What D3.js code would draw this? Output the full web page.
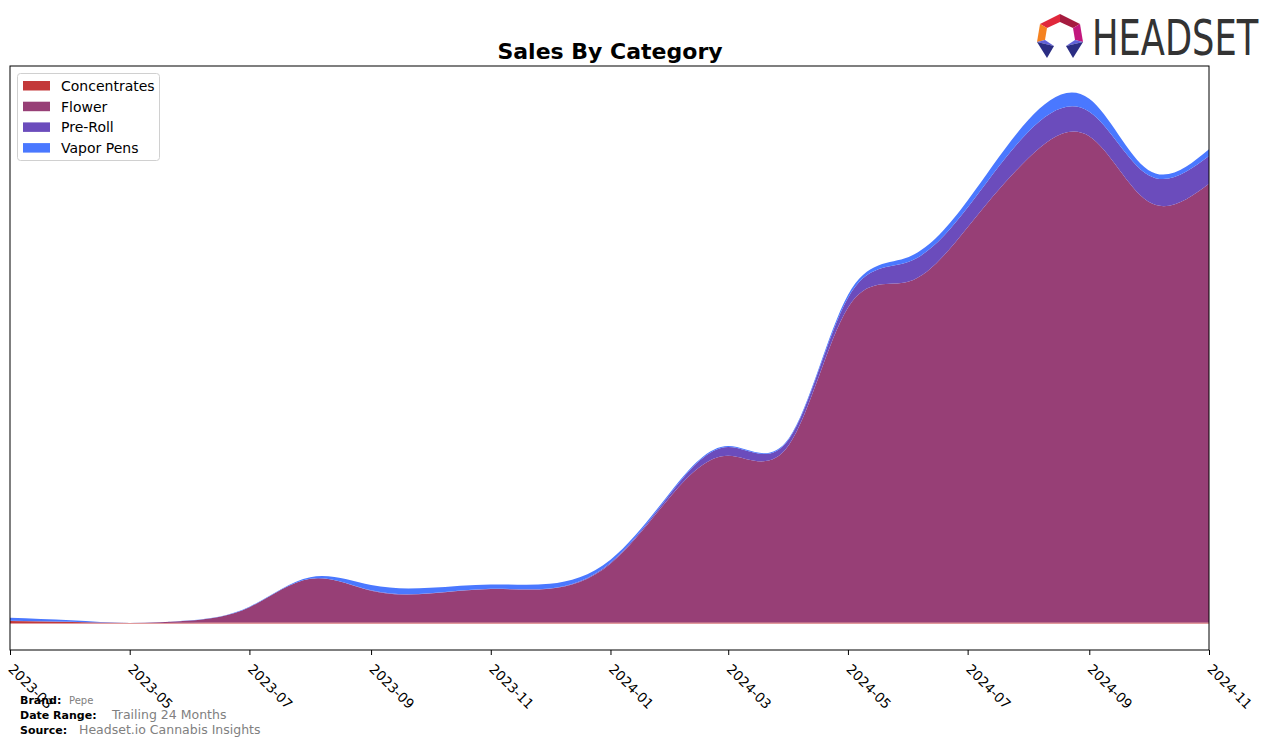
<!DOCTYPE html>
<html>
<head>
<meta charset="utf-8">
<script src="https://cdn.jsdelivr.net/npm/d3@7"></script>
<style>
  body { margin: 0; background: #fff; }
  text { font-family: "DejaVu Sans", sans-serif; }
</style>
</head>
<body>
<div id="chart"></div>
<script>
// monthly sales (thousands of $)
let months = ['2023-03', '2023-04', '2023-05', '2023-06', '2023-07', '2023-08', '2023-09', '2023-10', '2023-11', '2023-12',
  '2024-01', '2024-02', '2024-03', '2024-04', '2024-05', '2024-06', '2024-07', '2024-08', '2024-09', '2024-10', '2024-11'];
let concentrates = [2.5, 1.5, 0.5, 0.8, 1, 1, 1, 1, 1, 1, 1, 1, 1, 1, 1, 1, 1, 1, 1, 1, 1];
let flower = [0.3, 0.2, 0, 2.2, 15.5, 44.2, 32.2, 29.2, 33.8, 34.2, 59.5, 128.5, 168.8, 179.8, 318.5, 345, 400, 470, 492, 426, 444];
let preRoll = [0, 0, 0, 0, 0, 0, 0.3, 0.3, 0.3, 0.3, 1, 3, 8.7, 6, 10, 20, 20, 26.7, 25, 27, 28];
let vaporPens = [3, 1.5, 0, 0.2, 0.5, 1.6, 5.3, 5.6, 4.4, 4.6, 3, 1.5, 1, 1, 3, 5, 7, 12, 13, 5, 7];
let tickMonths = ['2023-03', '2023-05', '2023-07', '2023-09', '2023-11', '2024-01', '2024-03', '2024-05', '2024-07', '2024-09', '2024-11'];

let categories = ['Concentrates', 'Flower', 'Pre-Roll', 'Vapor Pens'];
let colors = ['#c3393a', '#973f76', '#6b4cbc', '#4a78ff'];

let w = 1276, h = 746;
let pLeft = 10, pRight = 1209, pTop = 66, pBottom = 650;

let parse = d3.timeParse('%Y-%m');
let rows = months.map((m, i) => ({
  date: parse(m),
  'Concentrates': concentrates[i],
  'Flower': flower[i],
  'Pre-Roll': preRoll[i],
  'Vapor Pens': vaporPens[i]
}));

let svg = d3.select('#chart').
append('svg').
attr('width', w).
attr('height', h);

let xScale = d3.scaleTime().
domain([parse(months[0]), parse(months[months.length - 1])]).
range([pLeft, pRight]);

let stacked = d3.stack().keys(categories)(rows);
let maxTotal = d3.max(rows, d => categories.reduce((s, k) => s + d[k], 0));

let yScale = d3.scaleLinear().
domain([-0.05 * maxTotal, 1.05 * maxTotal]).
range([pBottom, pTop]);

svg.append('clipPath').attr('id', 'plotclip').
append('rect').
attr('x', pLeft).attr('y', pTop).
attr('width', pRight - pLeft).attr('height', pBottom - pTop);

let area = d3.area().
curve(d3.curveNatural).
x(d => xScale(d.data.date)).
y0(d => yScale(d[0])).
y1(d => yScale(d[1]));

let paths = svg.append('g').
attr('clip-path', 'url(#plotclip)').
selectAll('path').
data(stacked).
enter().
append('path').
attr('d', area).
attr('fill', (d, i) => colors[i]);

// y limits follow the smoothed curve's peak, not just the monthly points
let topBox = paths.nodes()[paths.size() - 1].getBBox();
let curveMax = yScale.invert(topBox.y);
yScale.domain([-0.05 * curveMax, 1.05 * curveMax]);
paths.attr('d', area);

//frame
svg.append('rect').
attr('x', pLeft).attr('y', pTop).
attr('width', pRight - pLeft).attr('height', pBottom - pTop).
attr('fill', 'none').
attr('stroke', 'black').
attr('stroke-width', 1);

//x axis
let xAxis = d3.axisBottom(xScale).
tickValues(tickMonths.map(parse)).
tickFormat(d3.timeFormat('%Y-%m')).
tickSize(5).
tickSizeOuter(0);

let gx = svg.append('g').
attr('transform', 'translate(0,' + pBottom + ')').
call(xAxis);
gx.select('.domain').remove();
gx.selectAll('line').attr('stroke', 'black');
gx.selectAll('text').
attr('font-size', 13.5).
attr('font-family', 'DejaVu Sans').
attr('fill', 'black').
attr('text-anchor', 'start').
attr('transform', 'translate(-3,20) rotate(45)').
attr('dy', 0).
attr('x', 0).
attr('y', 0);

//title
svg.append('text').
text('Sales By Category').
attr('x', 610).
attr('y', 59).
attr('text-anchor', 'middle').
attr('font-size', 22).
attr('font-weight', 'bold');

//legend
let legend = svg.append('g');
legend.append('rect').
attr('x', 17.5).attr('y', 73.5).
attr('width', 142).attr('height', 87).
attr('rx', 3).
attr('fill', 'white').
attr('stroke', '#d0d0d0');
categories.forEach((c, i) => {
  legend.append('rect').
  attr('x', 23).attr('y', 81 + i * 20.7).
  attr('width', 27).attr('height', 9.5).
  attr('fill', colors[i]);
  legend.append('text').
  text(c).
  attr('x', 61).attr('y', 86 + i * 20.7).
  attr('dy', '0.35em').
  attr('font-size', 14);
});

//footer
let foot = [['Brand:', 'Pepe', 69, 10], ['Date Range:', 'Trailing 24 Months', 112, 12.5], ['Source:', 'Headset.io Cannabis Insights', 79, 12.5]];
foot.forEach((f, i) => {
  svg.append('text').text(f[0]).
  attr('x', 20).attr('y', 704 + i * 15).
  attr('font-size', 11).attr('font-weight', 'bold');
  svg.append('text').text(f[1]).
  attr('x', f[2]).attr('y', 704 + i * 15).
  attr('font-size', f[3]).attr('fill', '#808080');
});

//logo
let logo = svg.append('g');
let polys = [
  [[[1040, 24], [1060, 14], [1060, 22], [1047, 28]], '#e0283c'],
  [[[1060, 14], [1080, 24], [1073, 28], [1060, 22]], '#a51b3f'],
  [[[1080, 24], [1083, 42], [1075, 40], [1073, 28]], '#c2177d'],
  [[[1040, 24], [1047, 28], [1045, 40], [1037, 42]], '#f58220'],
  [[[1037, 42], [1045, 40], [1054, 46]], '#6060d8'],
  [[[1037, 42], [1054, 46], [1047, 58]], '#2b2d83'],
  [[[1083, 42], [1075, 40], [1066, 46]], '#6060d8'],
  [[[1083, 42], [1066, 46], [1073, 58]], '#2b2d83']
];
polys.forEach(p => {
  logo.append('polygon').
  attr('points', p[0].map(q => q.join(',')).join(' ')).
  attr('fill', p[1]);
});
logo.append('g').
attr('transform', 'translate(1092,55) scale(0.72,1)').
append('text').
text('HEADSET').
attr('x', 0).attr('y', 0).
attr('font-size', 49).
attr('font-family', 'Liberation Sans, sans-serif').
attr('fill', '#333333');
</script>
</body>
</html>
